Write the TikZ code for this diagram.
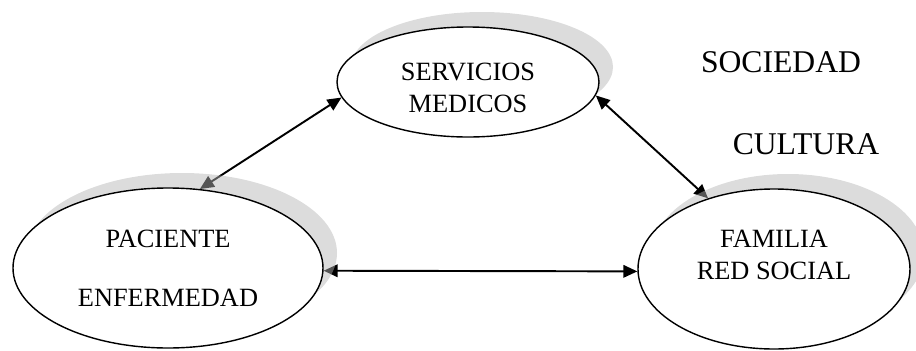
\documentclass[tikz,border=0pt]{standalone}
\usepackage{fontspec}
\setmainfont{Liberation Serif}
\usetikzlibrary{arrows.meta,calc,shapes.geometric}
\pgfdeclarelayer{arrowlayer}
\pgfdeclarelayer{shadowlayer}
\pgfsetlayers{arrowlayer,shadowlayer,main}
\tikzset{
    elli/.style={ellipse, draw, line width=0.8pt, fill=white, inner sep=0pt},
    conn/.style={{Triangle[length=2.8mm,width=2.5mm]}-{Triangle[length=2.8mm,width=2.5mm]}, line width=1.1pt},
    shade/.style={fill={rgb,255:red,181;green,181;blue,181}, opacity=0.47},
    lbl/.style={font=\fontsize{15}{18}\selectfont, align=center},
    biglbl/.style={font=\fontsize{18}{21}\selectfont}
}
\begin{document}
\begin{tikzpicture}
    \useasboundingbox (0,0) rectangle (18.32,7);

    % Ellipses
    \node[elli, minimum width=5.24cm, minimum height=2.2cm] (serv) at (9.36,5.36) {};
    \node[elli, minimum width=6.2cm, minimum height=3.2cm] (pac) at (3.36,1.64) {};
    \node[elli, minimum width=5.44cm, minimum height=3.2cm] (fam) at (15.48,1.62) {};

    % Texts
    \node[lbl] (servtxt) at ($(serv)+(0,-0.12)$) {SERVICIOS\\MEDICOS};
    \node[lbl] (pactxt) at (pac) {PACIENTE\\[0.55cm]ENFERMEDAD};
    \node[lbl] (famtxt) at ($(fam)+(0,0.28)$) {FAMILIA\\RED SOCIAL};
    \node[biglbl] (soc) at (15.62,5.76) {SOCIEDAD};
    \node[biglbl] (cult) at (16.12,4.12) {CULTURA};

    % Shadows
    \begin{pgfonlayer}{shadowlayer}
        \fill[shade] ($(serv)+(0.28,0.3)$) ellipse (2.62 and 1.1);
        \fill[shade] ($(pac)+(0.28,0.3)$) ellipse (3.1 and 1.6);
        \fill[shade] ($(fam)+(0.28,0.3)$) ellipse (2.72 and 1.6);
    \end{pgfonlayer}

    % Connections
    \begin{pgfonlayer}{arrowlayer}
        \draw[conn] (serv.187) -- (pac.68);
        \draw[conn] (serv.354) -- (fam.133);
        \draw[conn] (pac.-1) -- (fam.181);
    \end{pgfonlayer}
\end{tikzpicture}
\end{document}
